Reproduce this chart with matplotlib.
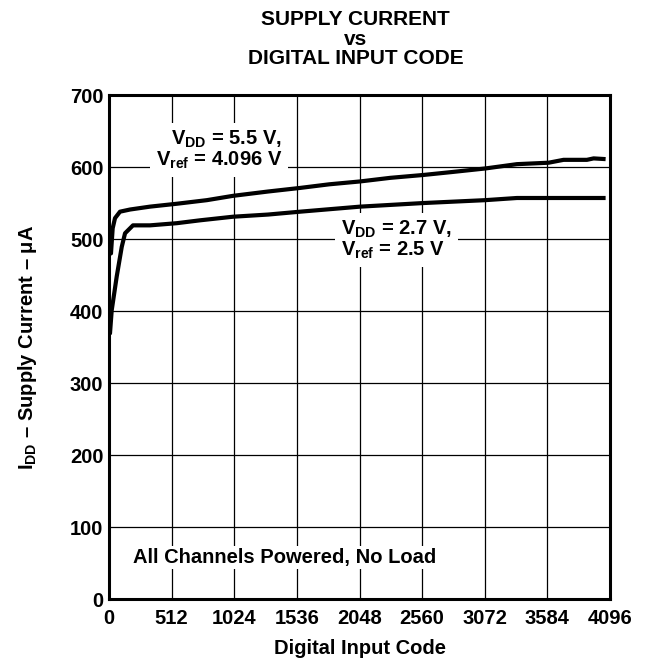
import numpy as np
import matplotlib.pyplot as plt

plt.rcParams['font.family'] = ['Liberation Sans', 'DejaVu Sans']
plt.rcParams['font.weight'] = 'bold'
plt.rcParams['axes.labelweight'] = 'bold'
plt.rcParams['mathtext.fontset'] = 'custom'
plt.rcParams['mathtext.rm'] = 'Liberation Sans:bold'
plt.rcParams['mathtext.bf'] = 'Liberation Sans:bold'
plt.rcParams['mathtext.it'] = 'Liberation Sans:bold'

# VDD = 5.5 V, Vref = 4.096 V
code_55 = [0, 16, 30, 49, 90, 172, 335, 554, 800, 1014, 1300, 1563, 1800, 2053,
           2300, 2571, 2800, 3076, 3335, 3594, 3716, 3907, 3962, 4060]
idd_55 = [500, 480, 515, 529, 538, 541, 545, 549, 554, 560, 566, 571, 576, 580,
          585, 589, 593, 598, 604, 606, 610, 610, 612, 611]

# VDD = 2.7 V, Vref = 2.5 V
code_27 = [0, 8, 22, 63, 104, 131, 196, 335, 554, 744, 1014, 1300, 1563, 2053,
           2571, 3076, 3335, 3594, 4060]
idd_27 = [385, 369, 401, 448, 489, 508, 519, 519, 522, 526, 531, 534, 538, 545,
          550, 554, 557, 557, 557]

xticks = [0, 512, 1024, 1536, 2048, 2560, 3072, 3584, 4096]
yticks = [0, 100, 200, 300, 400, 500, 600, 700]

fs = 14.5

fig = plt.figure(figsize=(6.52, 6.6), dpi=100)
ax = fig.add_axes([0.1672, 0.0924, 0.7684, 0.7636])

ax.plot(code_55, idd_55, color='black', lw=3, solid_capstyle='butt', zorder=3)
ax.plot(code_27, idd_27, color='black', lw=3, solid_capstyle='butt', zorder=3)

ax.set_xlim(0, 4096)
ax.set_ylim(0, 700)
ax.set_xticks(xticks)
ax.set_yticks(yticks)
ax.grid(True, color='black', lw=0.9)
ax.tick_params(length=0, labelsize=fs)
ax.tick_params(axis='x', pad=7)
ax.tick_params(axis='y', pad=4)
for s in ax.spines.values():
    s.set_linewidth(2.2)

box = dict(facecolor='white', edgecolor='none', boxstyle='square,pad=0.3')
ax.text(1415, 624, 'V$_{DD}$ = 5.5 V,\nV$_{ref}$ = 4.096 V', ha='right', va='center',
        multialignment='right', fontsize=fs, bbox=box, zorder=4, linespacing=0.95)
ax.text(1898, 499, 'V$_{DD}$ = 2.7 V,\nV$_{ref}$ = 2.5 V', ha='left', va='center',
        multialignment='left', fontsize=fs, bbox=box, zorder=4, linespacing=0.95)
ax.text(193, 57, 'All Channels Powered, No Load', ha='left', va='center',
        fontsize=fs, bbox=dict(facecolor='white', edgecolor='none', boxstyle='square,pad=0.1'),
        zorder=4)

ax.set_xlabel('Digital Input Code', fontsize=fs, labelpad=8)
ax.set_ylabel('I$_{DD}$ – Supply Current – $\\mu$A', fontsize=fs, labelpad=22)

fig.text(0.545, 0.985, 'SUPPLY CURRENT\nvs\nDIGITAL INPUT CODE', ha='center', va='top',
         fontsize=15, linespacing=1.05)

fig.savefig('out.png', dpi=100)
